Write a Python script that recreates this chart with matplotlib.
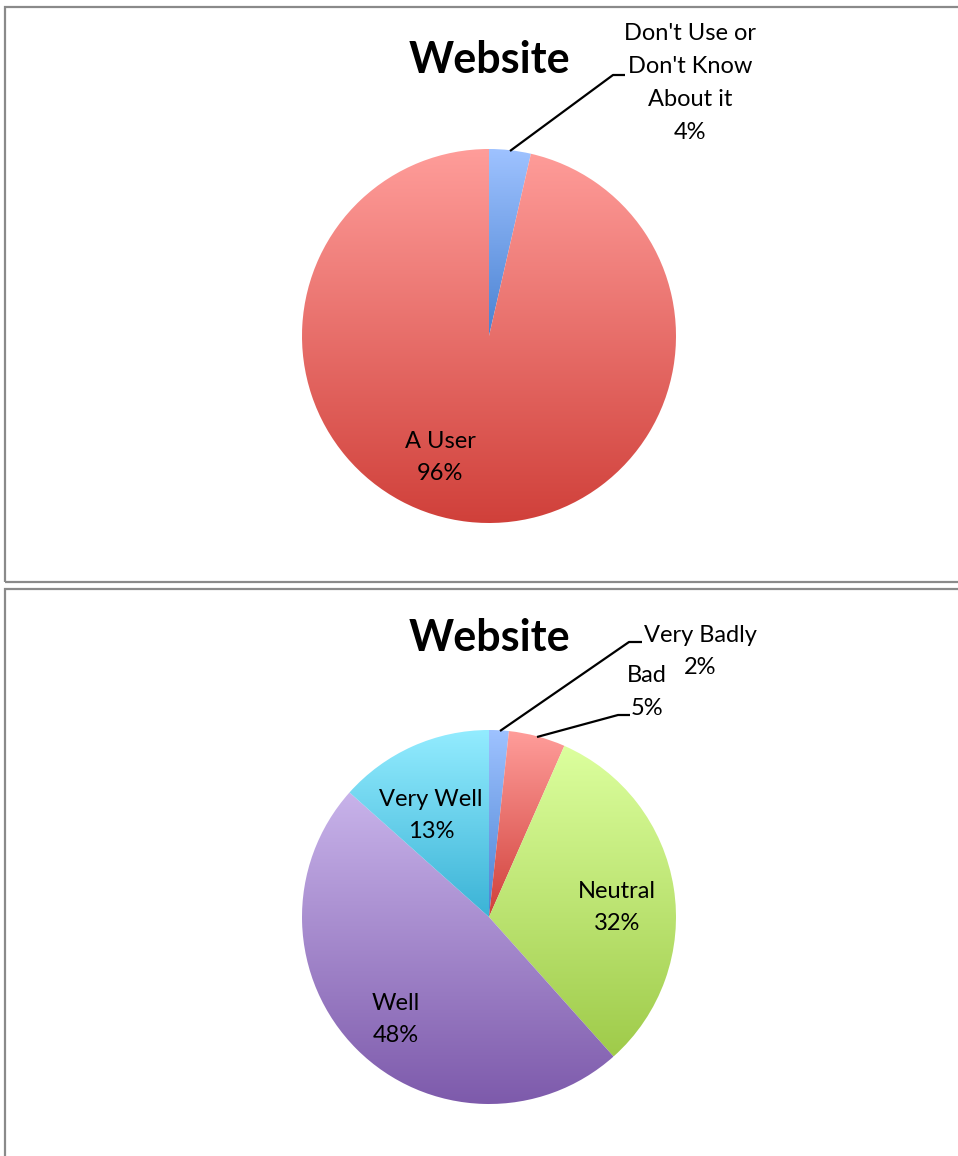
import numpy as np
import matplotlib.pyplot as plt
from matplotlib.patches import Rectangle
from matplotlib.colors import LinearSegmentedColormap

plt.rcParams['font.family'] = ['Lato', 'DejaVu Sans']

W, H = 958, 1156

title = 'Website'

# chart 1
labels1 = ["Don't Use or\nDon't Know\nAbout it", 'A User']
values1 = [3.6, 96.4]
pcts1 = ['4%', '96%']
colors1 = [('#9ec2ff', '#4a82d2'), ('#ff9d9a', '#d0403a')]

# chart 2
labels2 = ['Very Badly', 'Bad', 'Neutral', 'Well', 'Very Well']
values2 = [1.7, 4.9, 31.8, 48.2, 13.4]
pcts2 = ['2%', '5%', '32%', '48%', '13%']
colors2 = [('#9ec2ff', '#4a82d2'), ('#ff9d9a', '#d0403a'), ('#dcff9e', '#9fcb4a'),
           ('#c8b3ea', '#7d5aab'), ('#93ecff', '#3bb3d6')]

fig = plt.figure(figsize=(W / 100, H / 100), dpi=100)
ax = fig.add_axes([0, 0, 1, 1])
ax.set_xlim(0, W)
ax.set_ylim(0, H)
ax.axis('off')


def py(y):
    # pixel row (from top) -> data y
    return H - y


def gradient_pie(values, colors, cx, cy, r):
    wedges, _ = ax.pie(values, startangle=90, counterclock=False,
                       center=(cx, py(cy)), radius=r, frame=True)
    for w, (c_top, c_bot) in zip(wedges, colors):
        w.set_facecolor('none')
        w.set_edgecolor('none')
        verts = w.get_path().vertices
        ymin, ymax = verts[:, 1].min(), verts[:, 1].max()
        cmap = LinearSegmentedColormap.from_list('g', [c_bot, c_top])
        grad = np.linspace(0, 1, 256).reshape(-1, 1)
        im = ax.imshow(grad, cmap=cmap, origin='lower', aspect='auto',
                       extent=(cx - r, cx + r, ymin, ymax), zorder=1,
                       interpolation='bicubic')
        im.set_clip_path(w)
    ax.set_xlim(0, W)
    ax.set_ylim(0, H)
    ax.axis('off')


def label(text, x, y, size=17, step=32.7):
    # one text per line, centred on x, first line at y
    for i, line in enumerate(text.split('\n')):
        ax.text(x, py(y + i * step), line, ha='center', va='center',
                fontsize=size, color='black', zorder=5)


def leader(pts):
    xs = [p[0] for p in pts]
    ys = [py(p[1]) for p in pts]
    ax.plot(xs, ys, color='black', lw=1.6, zorder=4, solid_capstyle='butt')


# panel borders
ax.add_patch(Rectangle((5, py(582)), 960, 575, fill=False, ec='#8a8a8a', lw=1.6, zorder=0))
ax.add_patch(Rectangle((5, py(1170)), 960, 581, fill=False, ec='#8a8a8a', lw=1.6, zorder=0))

# top chart
gradient_pie(values1, colors1, 489, 336, 187)
ax.text(489, py(60), title, ha='center', va='center', fontsize=31, fontweight='bold')
label(labels1[0] + '\n' + pcts1[0], 690, 34)
label(f'{labels1[1]}\n{pcts1[1]}', 440, 441)
leader([(510, 151), (613, 75), (625, 75)])

# bottom chart
gradient_pie(values2, colors2, 489, 917, 187)
ax.text(489, py(638), title, ha='center', va='center', fontsize=31, fontweight='bold')
label(f'{labels2[0]}\n{pcts2[0]}', 700, 635)
label(f'{labels2[1]}\n{pcts2[1]}', 647, 676)
label(f'{labels2[2]}\n{pcts2[2]}', 617, 891)
label(f'{labels2[3]}\n{pcts2[3]}', 396, 1003)
label(f'{labels2[4]}\n{pcts2[4]}', 431, 799)
leader([(500, 731), (629, 642), (642, 642)])
leader([(537, 737), (618, 715), (630, 715)])

fig.savefig('out.png', dpi=100)
